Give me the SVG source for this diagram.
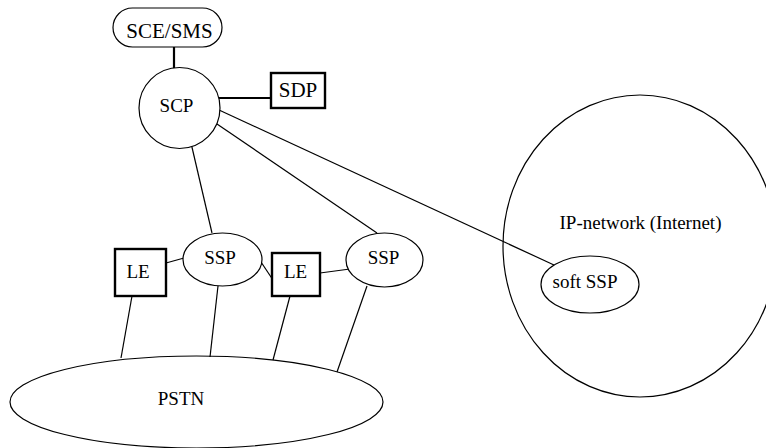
<svg xmlns="http://www.w3.org/2000/svg" width="766" height="448" viewBox="0 0 766 448">
<style>
text{font-family:'Liberation Serif','Times New Roman',serif;font-size:19px;fill:#000;text-anchor:middle}
.big{font-size:21px}
.thin{fill:none;stroke:#000;stroke-width:1.2}
.thick{fill:none;stroke:#000;stroke-width:2.2}
.shape{fill:#fff;stroke:#000;stroke-width:1.2}
.open{fill:none;stroke:#000;stroke-width:1.2}
.box{fill:#fff;stroke:#000;stroke-width:2.4}
</style>
<rect width="766" height="448" fill="#fff"/>
<g id="pstn">
<ellipse class="shape" cx="196.5" cy="402" rx="186.5" ry="46"/>
<text x="181" y="405">PSTN</text>
</g>
<g id="ipnetwork">
<ellipse class="open" cx="640" cy="246" rx="137" ry="151"/>
<text x="640.5" y="229">IP-network (Internet)</text>
</g>
<g id="connectors">
<line class="thick" x1="174" y1="47" x2="174" y2="69"/>
<line class="thick" x1="219" y1="98" x2="271" y2="98"/>
<line class="thin" x1="191" y1="143" x2="212" y2="233"/>
<line class="thin" x1="217" y1="124" x2="377" y2="233"/>
<line class="thin" x1="219" y1="110" x2="554" y2="265"/>
<line class="thin" x1="166" y1="263" x2="184" y2="258"/>
<line class="thin" x1="261" y1="262" x2="273" y2="280"/>
<line class="thin" x1="320" y1="273" x2="350" y2="269"/>
<line class="thin" x1="132" y1="296" x2="121" y2="358"/>
<line class="thin" x1="218" y1="286" x2="210" y2="357"/>
<line class="thin" x1="290" y1="296" x2="273" y2="360"/>
<line class="thin" x1="367" y1="286" x2="337" y2="372"/>
</g>
<g id="sce">
<rect class="shape" x="113" y="8" width="109" height="39" rx="19.5" ry="19.5"/>
<text class="big" x="169.5" y="38">SCE/SMS</text>
</g>
<g id="scp">
<circle class="shape" cx="179.5" cy="108" r="40.5"/>
<text x="176.5" y="112">SCP</text>
</g>
<g id="sdp">
<rect class="box" x="271" y="73" width="54" height="35"/>
<text class="big" x="298" y="97">SDP</text>
</g>
<g id="le1">
<rect class="box" x="115" y="249" width="51" height="47"/>
<text x="138" y="278">LE</text>
</g>
<g id="ssp1">
<ellipse class="shape" cx="222.5" cy="259.5" rx="39.5" ry="26.5"/>
<text x="220" y="264">SSP</text>
</g>
<g id="le2">
<rect class="box" x="272" y="253" width="48" height="43"/>
<text x="295.5" y="278">LE</text>
</g>
<g id="ssp2">
<ellipse class="shape" cx="384.5" cy="260" rx="38.5" ry="27"/>
<text x="383.5" y="264">SSP</text>
</g>
<g id="softssp">
<ellipse class="shape" cx="590" cy="284.5" rx="49" ry="28.5"/>
<text x="585" y="288">soft SSP</text>
</g>
</svg>
